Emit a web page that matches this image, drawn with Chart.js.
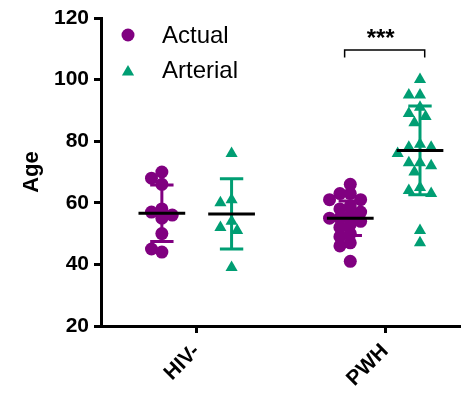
<!DOCTYPE html>
<html>
<head>
<meta charset="utf-8">
<script src="https://cdn.jsdelivr.net/npm/chart.js@4.4.1/dist/chart.umd.min.js"></script>
<style>
    html, body { margin: 0; padding: 0; background: #fff; }
    #wrap { width: 466px; height: 396px; }
</style>
</head>
<body>
<div id="wrap"><canvas id="ageChart"></canvas></div>
<script>
// groups on the x axis
const groups = ['HIV-', 'PWH'];

// individual ages
const actualHIVneg = [70, 68, 66, 58, 57, 56, 55, 50, 44, 45];
const arterialHIVneg = [76, 61, 60, 54, 52, 51, 39];
const actualPWH = [66, 63, 63, 61, 61, 59, 58, 57, 56, 55, 55, 54, 53, 52, 50, 49, 47, 46, 41];
const arterialPWH = [100, 95, 95, 91, 89, 88, 86, 79, 78, 78, 76, 73, 73, 72, 70, 65, 64, 63, 51, 47];

// mean and SD per group, as shown by the bars
const actualMean = [56.6, 55.0];
const actualSD = [9.2, 5.6];
const arterialMean = [56.4, 77.0];
const arterialSD = [11.4, 14.4];

const yTicks = [20, 40, 60, 80, 100, 120];
const sigLabel = '***';
const sigLevel = 109.6;

const PURPLE = '#800080';
const GREEN = '#009E73';
const FONT = "'Liberation Sans', Arial, sans-serif";

// rough px per data unit, used only to spread overlapping points sideways
const PX_X = 189, PX_Y = 3.08;
const SHIFT = 0.185;   // series offset from group centre
const MEAN_HALF = 0.124;
const CAP_HALF = 0.062;

function swarm(values, center, r) {
    const placed = [];
    return values.map(v => {
        const py = v * PX_Y;
        let off = 0;
        for (let i = 0; i < 40; i++) {
            off = i === 0 ? 0 : Math.ceil(i / 2) * (i % 2 ? -1 : 1) * r * 0.8;
            const free = placed.every(p => (p.x - off) ** 2 + (p.y - py) ** 2 >= (1.35 * r) ** 2);
            if (free) break;
        }
        placed.push({ x: off, y: py });
        return { x: center + off / PX_X, y: v };
    });
}

function meanSegments(centers, means) {
    const pts = [];
    centers.forEach((c, i) => {
        pts.push({ x: c - MEAN_HALF, y: means[i] }, { x: c + MEAN_HALF, y: means[i] }, { x: c, y: null });
    });
    return pts;
}

function errorSegments(centers, means, sds) {
    const pts = [];
    centers.forEach((c, i) => {
        const hi = means[i] + sds[i], lo = means[i] - sds[i];
        pts.push({ x: c - CAP_HALF, y: hi }, { x: c + CAP_HALF, y: hi }, { x: c, y: null });
        pts.push({ x: c, y: hi }, { x: c, y: lo }, { x: c, y: null });
        pts.push({ x: c - CAP_HALF, y: lo }, { x: c + CAP_HALF, y: lo }, { x: c, y: null });
    });
    return pts;
}

const actualX = [1 - SHIFT, 2 - SHIFT];
const arterialX = [1 + SHIFT, 2 + SHIFT];

const lineStyle = (color, width) => ({
    type: 'line',
    borderColor: color,
    borderWidth: width,
    pointRadius: 0,
    spanGaps: false,
    fill: false,
    tension: 0,
    borderCapStyle: 'butt'
});

const overlay = {
    id: 'overlay',
    afterDraw(chart) {
        const ctx = chart.ctx;
        const x = chart.scales.x, y = chart.scales.y;
        ctx.save();

        // legend
        ctx.fillStyle = PURPLE;
        ctx.beginPath();
        ctx.arc(128, 35, 6.5, 0, Math.PI * 2);
        ctx.fill();
        ctx.fillStyle = GREEN;
        ctx.beginPath();
        ctx.moveTo(128, 65);
        ctx.lineTo(134.1, 75.5);
        ctx.lineTo(121.9, 75.5);
        ctx.closePath();
        ctx.fill();
        ctx.fillStyle = '#000';
        ctx.font = '24px ' + FONT;
        ctx.textBaseline = 'middle';
        ctx.textAlign = 'left';
        ctx.fillText('Actual', 162, 36);
        ctx.fillText('Arterial', 162, 71);

        // significance bracket over PWH
        const xl = x.getPixelForValue(2 - 0.215);
        const xr = x.getPixelForValue(2 + 0.21);
        const yt = y.getPixelForValue(sigLevel);
        const yb = y.getPixelForValue(sigLevel - 2.4);
        ctx.strokeStyle = '#000';
        ctx.lineWidth = 1.5;
        ctx.beginPath();
        ctx.moveTo(xl, yb);
        ctx.lineTo(xl, yt);
        ctx.lineTo(xr, yt);
        ctx.lineTo(xr, yb);
        ctx.stroke();
        ctx.font = 'bold 24px ' + FONT;
        ctx.textAlign = 'center';
        ctx.textBaseline = 'alphabetic';
        ctx.fillText(sigLabel, (xl + xr) / 2 - 4, yt - 4);
        ctx.restore();
    }
};

new Chart(document.getElementById('ageChart'), {
    type: 'scatter',
    data: {
        datasets: [
            Object.assign({ label: 'mean', data: meanSegments(actualX.concat(arterialX), actualMean.concat(arterialMean)), order: 0 }, lineStyle('#000', 3)),
            {
                label: 'Actual',
                data: swarm(actualHIVneg, actualX[0], 6.5).concat(swarm(actualPWH, actualX[1], 6.5)),
                pointStyle: 'circle',
                pointRadius: 6.5,
                backgroundColor: PURPLE,
                borderWidth: 0,
                order: 1
            },
            {
                label: 'Arterial',
                data: swarm(arterialHIVneg, arterialX[0], 7).concat(swarm(arterialPWH, arterialX[1], 7)),
                pointStyle: 'triangle',
                pointRadius: 7,
                backgroundColor: GREEN,
                borderWidth: 0,
                order: 1
            },
            Object.assign({ label: 'sd-a', data: errorSegments(actualX, actualMean, actualSD), order: 2 }, lineStyle(PURPLE, 3)),
            Object.assign({ label: 'sd-b', data: errorSegments(arterialX, arterialMean, arterialSD), order: 2 }, lineStyle(GREEN, 3))
        ]
    },
    options: {
        responsive: true,
        maintainAspectRatio: false,
        animation: false,
        events: [],
        layout: { padding: { top: 18, right: 6, left: 0, bottom: 0 } },
        plugins: {
            legend: { display: false },
            tooltip: { enabled: false }
        },
        scales: {
            x: {
                type: 'linear',
                min: 0.492,
                max: 2.392,
                afterBuildTicks: (axis) => { axis.ticks = [{ value: 1 }, { value: 2 }]; },
                afterFit: (s) => { s.height = 70; },
                grid: { drawOnChartArea: false, drawTicks: true, tickLength: 7, color: '#000', lineWidth: 3 },
                border: { display: true, color: '#000', width: 3 },
                ticks: {
                    autoSkip: false,
                    minRotation: 45,
                    maxRotation: 45,
                    padding: 6,
                    color: '#000',
                    font: { family: FONT, size: 21, weight: 'bold' },
                    callback: (v) => groups[v - 1]
                }
            },
            y: {
                min: 20,
                max: 120,
                afterBuildTicks: (axis) => { axis.ticks = yTicks.map(v => ({ value: v })); },
                afterFit: (s) => { s.width = 101; },
                grid: { drawOnChartArea: false, drawTicks: true, tickLength: 7, color: '#000', lineWidth: 3 },
                border: { display: true, color: '#000', width: 3 },
                title: {
                    display: true,
                    text: 'Age',
                    color: '#000',
                    font: { family: FONT, size: 22, weight: 'bold' },
                    padding: { top: 19, bottom: 6 }
                },
                ticks: {
                    padding: 5,
                    color: '#000',
                    font: { family: FONT, size: 21, weight: 'bold' }
                }
            }
        }
    },
    plugins: [overlay]
});
</script>
</body>
</html>
